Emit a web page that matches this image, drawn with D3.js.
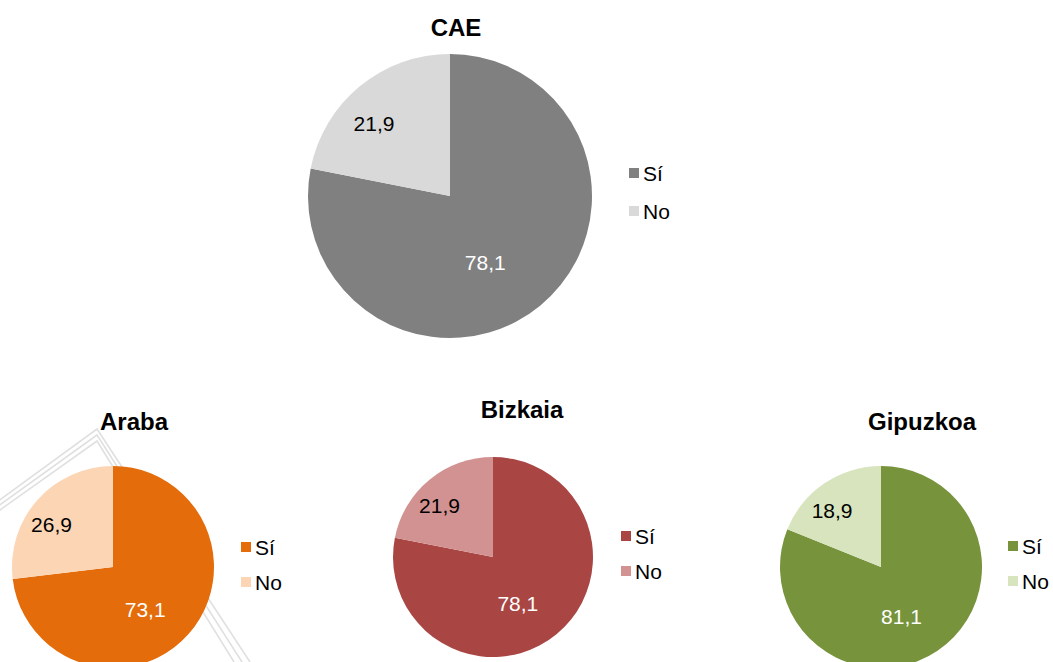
<!DOCTYPE html>
<html>
<head>
<meta charset="utf-8">
<script src="https://cdn.jsdelivr.net/npm/d3@7"></script>
<style>
  body { margin: 0; background: #fff; }
  svg { display: block; font-family: "Liberation Sans", Arial, sans-serif; }
</style>
</head>
<body>
<svg width="1053" height="662"></svg>
<script>
var regions    = ["CAE", "Araba", "Bizkaia", "Gipuzkoa"],
    categories = ["Sí", "No"],
    siValues   = [78.1, 73.1, 78.1, 81.1],
    noValues   = [21.9, 26.9, 21.9, 18.9];

var siColors = ["#808080", "#e46c0a", "#a94644", "#77933c"],
    noColors = ["#d9d9d9", "#fcd5b5", "#d29291", "#d7e4bd"];

// where each small chart sits on the page
var layout = [
  {cx: 450, cy: 196, r: 142, tx: 456, ty: 36,  lx: 629,  ly: 168, gap: 38},
  {cx: 113, cy: 567, r: 101, tx: 134, ty: 430, lx: 241,  ly: 542, gap: 35},
  {cx: 493, cy: 557, r: 100, tx: 522, ty: 418, lx: 621,  ly: 531, gap: 35},
  {cx: 881, cy: 567, r: 101, tx: 922, ty: 430, lx: 1008, ly: 541, gap: 35}
];

var svg = d3.select("svg");

// faint watermark chevron behind the Araba chart
var mark = svg.append("g").attr("fill", "none").attr("stroke", "#e0e0e0").attr("stroke-width", 1.6);
[0, 5, 10].forEach(function(o) {
  mark.append("path")
      .attr("d", d3.line()([[-10, 507 + o], [97, 429 + o * 1.2], [250 - o * 1.6, 662]]));
});

var pie = d3.pie().sort(null).value(function(d) { return d.value; });

regions.forEach(function(name, i) {
  var L = layout[i];
  var data = [
    {cat: categories[0], value: siValues[i], color: siColors[i], text: "#fff"},
    {cat: categories[1], value: noValues[i], color: noColors[i], text: "#000"}
  ];

  var arc = d3.arc().innerRadius(0).outerRadius(L.r);
  var g = svg.append("g").attr("transform", "translate(" + L.cx + "," + L.cy + ")");

  var arcs = pie(data);
  g.selectAll("path")
    .data(arcs)
    .enter().append("path")
    .attr("d", arc)
    .attr("fill", function(d) { return d.data.color; });

  // labels roughly where Excel's best fit puts them
  g.selectAll("text")
    .data(arcs)
    .enter().append("text")
    .attr("transform", function(d) {
      var big = d.index === 0;
      var a = (d.startAngle + d.endAngle) / 2 + (big ? 0.2 : -0.12);
      var k = L.r * (big ? 0.53 : 0.74);
      return "translate(" + [Math.sin(a) * k, -Math.cos(a) * k] + ")";
    })
    .attr("text-anchor", "middle")
    .attr("dy", "0.36em")
    .attr("font-size", 21)
    .attr("fill", function(d) { return d.data.text; })
    .text(function(d) { return d3.format(".1f")(d.data.value).replace(".", ","); });

  svg.append("text")
    .attr("x", L.tx)
    .attr("y", L.ty)
    .attr("text-anchor", "middle")
    .attr("font-size", 24)
    .attr("font-weight", "bold")
    .text(name);

  var leg = svg.append("g").attr("transform", "translate(" + L.lx + "," + L.ly + ")");
  data.forEach(function(d, j) {
    leg.append("rect")
      .attr("x", 0).attr("y", j * L.gap)
      .attr("width", 10).attr("height", 10)
      .attr("fill", d.color);
    leg.append("text")
      .attr("x", 14).attr("y", j * L.gap + 5)
      .attr("dy", "0.36em")
      .attr("font-size", 21)
      .text(d.cat);
  });
});
</script>
</body>
</html>
